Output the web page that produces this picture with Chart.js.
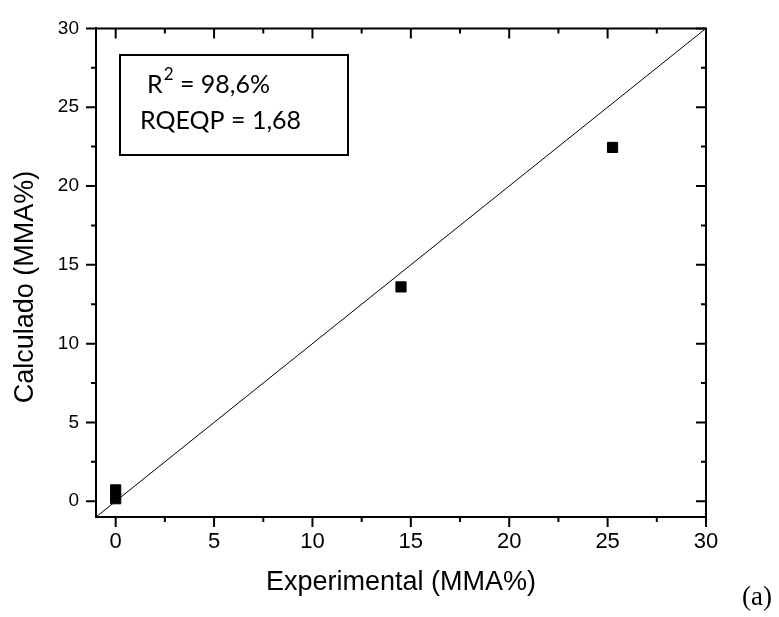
<!DOCTYPE html>
<html>
<head>
<meta charset="utf-8">
<script src="https://cdn.jsdelivr.net/npm/chart.js@4"></script>
<style>
  html, body { margin: 0; padding: 0; background: #fff; }
</style>
</head>
<body>
<canvas id="chart" width="779" height="617"></canvas>
<script>
// Calculated vs experimental MMA content (%)
const experimental = [0, 0, 14.5, 25.25];
const calculated = [0.72, 0.16, 13.6, 22.45];
const diagonal = [-1, 30];
const tickValues = [0, 5, 10, 15, 20, 25, 30];
const minorValues = [2.5, 7.5, 12.5, 17.5, 22.5, 27.5];
const axisMin = -1;
const axisMax = 30;
const xTitle = 'Experimental (MMA%)';
const yTitle = 'Calculado (MMA%)';
const r2Text = ['R', '2', ' = 98,6%'];
const rmseText = 'RQEQP = 1,68';
const panelLabel = '(a)';

// frame, inward/outward ticks, titles and the stats box
const decorPlugin = {
    id: 'decor',
    afterDraw(chart) {
        const ctx = chart.ctx;
        const { left, right, top, bottom } = chart.chartArea;
        const sx = chart.scales.x, sy = chart.scales.y;
        ctx.save();
        ctx.strokeStyle = '#000';
        ctx.lineWidth = 2;
        ctx.beginPath();
        ctx.moveTo(left, top); ctx.lineTo(right, top); ctx.lineTo(right, bottom);
        ctx.stroke();

        const drawTicks = (values, len) => {
            values.forEach(v => {
                const px = sx.getPixelForValue(v);
                ctx.beginPath();
                ctx.moveTo(px, bottom); ctx.lineTo(px, bottom + len);
                ctx.moveTo(px, top); ctx.lineTo(px, top + len);
                ctx.stroke();
                const py = sy.getPixelForValue(v);
                ctx.beginPath();
                ctx.moveTo(left - len, py); ctx.lineTo(left, py);
                ctx.moveTo(right - len, py); ctx.lineTo(right, py);
                ctx.stroke();
            });
        };
        drawTicks(tickValues, 10);
        drawTicks(minorValues, 5);

        // axis titles
        ctx.fillStyle = '#000';
        ctx.font = '27px "Liberation Sans", Arial, sans-serif';
        ctx.textAlign = 'center';
        ctx.textBaseline = 'alphabetic';
        ctx.fillText(xTitle, (left + right) / 2, 590);
        ctx.save();
        ctx.translate(33, 287);
        ctx.rotate(-Math.PI / 2);
        ctx.fillText(yTitle, 0, 0);
        ctx.restore();

        // panel label
        ctx.font = '27px "Liberation Serif", "Times New Roman", serif';
        ctx.textAlign = 'left';
        ctx.fillText(panelLabel, 742, 605);

        // stats box
        ctx.lineWidth = 2;
        ctx.strokeRect(120, 55, 228, 100);
        ctx.font = '25px Lato, sans-serif';
        let x = 147;
        ctx.fillText(r2Text[0], x, 93);
        x += ctx.measureText(r2Text[0]).width;
        ctx.font = '17px Lato, sans-serif';
        ctx.fillText(r2Text[1], x + 1, 80);
        x += ctx.measureText(r2Text[1]).width + 1;
        ctx.font = '25px Lato, sans-serif';
        ctx.fillText(r2Text[2], x, 93);
        ctx.fillText(rmseText, 140, 129);
        ctx.restore();
    }
};

const points = experimental.map((v, i) => ({ x: v, y: calculated[i] }));
const lineData = diagonal.map(v => ({ x: v, y: v }));

new Chart(document.getElementById('chart').getContext('2d'), {
    type: 'scatter',
    data: {
        datasets: [
            {
                data: points,
                pointStyle: 'rect',
                pointRadius: 7.2,
                backgroundColor: '#000',
                borderColor: '#000',
                borderWidth: 1
            },
            {
                type: 'line',
                data: lineData,
                borderColor: '#000',
                borderWidth: 1,
                pointRadius: 0,
                fill: false
            }
        ]
    },
    options: {
        responsive: false,
        animation: false,
        devicePixelRatio: 1,
        layout: { padding: { top: 24, right: 73, left: 0, bottom: 0 } },
        plugins: { legend: { display: false }, tooltip: { enabled: false } },
        scales: {
            x: {
                type: 'linear',
                min: axisMin,
                max: axisMax,
                afterBuildTicks: s => { s.ticks = tickValues.map(v => ({ value: v })); },
                afterFit: s => { s.height = 100; },
                grid: { drawOnChartArea: false, drawTicks: false },
                border: { display: true, color: '#000', width: 2 },
                ticks: {
                    color: '#000',
                    padding: 12,
                    maxRotation: 0,
                    font: { family: '"Liberation Sans", Arial, sans-serif', size: 22 }
                }
            },
            y: {
                type: 'linear',
                min: axisMin,
                max: axisMax,
                afterBuildTicks: s => { s.ticks = tickValues.map(v => ({ value: v })); },
                afterFit: s => { s.width = 96; },
                grid: { drawOnChartArea: false, drawTicks: false },
                border: { display: true, color: '#000', width: 2 },
                ticks: {
                    color: '#000',
                    padding: 17,
                    font: { family: '"Liberation Sans", Arial, sans-serif', size: 19 }
                }
            }
        }
    },
    plugins: [decorPlugin]
});
</script>
</body>
</html>
